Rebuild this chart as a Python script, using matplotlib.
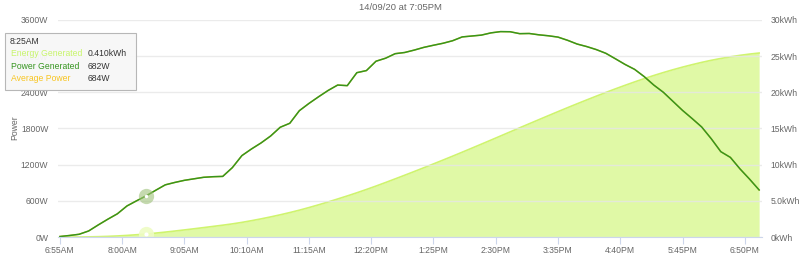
import numpy as np
import pandas as pd
import matplotlib
matplotlib.use("Agg")
import matplotlib.pyplot as plt
import matplotlib.dates as mdates

plt.rcParams["font.family"] = ["Liberation Sans", "DejaVu Sans"]

# 10 minute readings, 6:55AM -> 7:05PM
times = pd.date_range("2020-09-14 06:55", periods=74, freq="10min")
power = [8, 25, 45, 100, 200, 295, 385, 515, 600, 682,
         775, 865, 905, 940, 965, 990, 1000, 1005, 1150, 1350,
         1460, 1560, 1675, 1820, 1886, 2095, 2215, 2325, 2430, 2520,
         2510, 2725, 2760, 2915, 2965, 3040, 3060, 3100, 3145, 3180,
         3213, 3255, 3318, 3333, 3348, 3385, 3406, 3404, 3372, 3375,
         3353, 3337, 3315, 3262, 3200, 3158, 3108, 3046, 2955, 2862,
         2780, 2660, 2520, 2400, 2250, 2100, 1965, 1825, 1630, 1415,
         1320, 1130, 960, 780]
energy = [0, 0.003, 0.009, 0.021, 0.046, 0.087, 0.144, 0.219, 0.312, 0.410,
          0.540, 0.676, 0.824, 0.978, 1.136, 1.299, 1.465, 1.632, 1.812, 2.020,
          2.254, 2.506, 2.776, 3.067, 3.376, 3.707, 4.067, 4.445, 4.841, 5.254,
          5.673, 6.109, 6.566, 7.039, 7.529, 8.030, 8.538, 9.051, 9.572, 10.099,
          10.631, 11.170, 11.718, 12.272, 12.829, 13.390, 13.956, 14.524, 15.088, 15.651,
          16.211, 16.769, 17.323, 17.871, 18.410, 18.940, 19.462, 19.975, 20.475, 20.959,
          21.430, 21.883, 22.315, 22.725, 23.112, 23.475, 23.813, 24.129, 24.417, 24.671,
          24.899, 25.103, 25.277, 25.422]
avg_power = power  # hidden under the generated line

left_ticks = [0, 600, 1200, 1800, 2400, 3000, 3600]
left_labels = ["0W", "600W", "1200W", "1800W", "2400W", "3000W", "3600W"]
right_ticks = [0, 5, 10, 15, 20, 25, 30]
right_labels = ["0kWh", "5.0kWh", "10kWh", "15kWh", "20kWh", "25kWh", "30kWh"]

hover_i = 9
c_line = "#35951f"
c_fill = "#e0f9a6"
c_edge = "#cff46e"
c_avg = "#f7c520"
grey = "#666666"
fs = 6.2

fig = plt.figure(figsize=(8, 2.56), dpi=100)
ax = fig.add_axes([0.0725, 0.0742, 0.88, 0.848])
ax2 = ax.twinx()

ax.set_zorder(ax2.get_zorder() + 1)
ax.patch.set_visible(False)

ax2.fill_between(times, energy, color=c_fill, lw=0)
ax2.plot(times, energy, color=c_edge, lw=1.2)
ax2.set_ylim(0, 30)
ax2.set_yticks(right_ticks)
ax2.set_yticklabels(right_labels)

ax.plot(times, avg_power, color=c_avg, lw=1.0)
ax.plot(times, power, color=c_line, lw=1.1)
ax.set_ylim(0, 3600)
ax.set_yticks(left_ticks)
ax.set_yticklabels(left_labels)
fig.text(0.019, 0.5, "Power", rotation=90, fontsize=fs, color=grey, ha="center", va="center")

# hover markers
ax.plot(times[hover_i], power[hover_i], "o", ms=11, color="#9fc27a", alpha=0.6, mec="none")
ax.plot(times[hover_i], power[hover_i], "o", ms=2.5, color="white", mec="none")
ax2.plot(times[hover_i], energy[hover_i], "o", ms=11, color="#eefcc4", alpha=0.9, mec="none")
ax2.plot(times[hover_i], energy[hover_i], "o", ms=3, color="white", mec="none")

xticks = pd.date_range("2020-09-14 06:55", "2020-09-14 18:50", freq="65min")
ax.set_xticks(xticks)
ax.xaxis.set_major_formatter(mdates.DateFormatter("%-I:%M%p"))
ax.set_xlim(pd.Timestamp("2020-09-14 06:53"), pd.Timestamp("2020-09-14 19:08"))

for a in (ax, ax2):
    for s in a.spines.values():
        s.set_visible(False)
ax.grid(axis="y", color="#e6e6e6", lw=1, alpha=0.8)
ax.set_axisbelow(True)
ax.spines["bottom"].set_visible(True)
ax.spines["bottom"].set_color("#ccd6eb")
ax.tick_params(axis="x", colors="#ccd6eb", length=5, labelcolor=grey, labelsize=fs, pad=1.5)
ax.tick_params(axis="y", length=0, labelcolor=grey, labelsize=fs, pad=7)
ax2.tick_params(axis="y", length=0, labelcolor=grey, labelsize=fs, pad=6)

fig.text(0.5, 0.972, "14/09/20 at 7:05PM", ha="center", va="center", fontsize=6.8, color=grey)

# tooltip
box = plt.Rectangle((0.006, 0.648), 0.164, 0.222, transform=fig.transFigure,
                    facecolor="#f7f7f7", edgecolor="#b5b5b5", lw=0.8, alpha=0.96, zorder=10)
fig.patches.append(box)
fig.text(0.012, 0.836, "8:25AM", fontsize=fs, color="#333333", va="center", zorder=11)
rows = [("Energy Generated", "0.410kWh", "#c8f56a"),
        ("Power Generated", "682W", c_line),
        ("Average Power", "684W", c_avg)]
for k, (name, val, col) in enumerate(rows):
    y = 0.792 - k * 0.05
    fig.text(0.014, y, name, fontsize=fs, color=col, va="center", zorder=11)
    fig.text(0.11, y, val, fontsize=fs, color="#333333", va="center", zorder=11)

fig.savefig("out.png", dpi=100)
